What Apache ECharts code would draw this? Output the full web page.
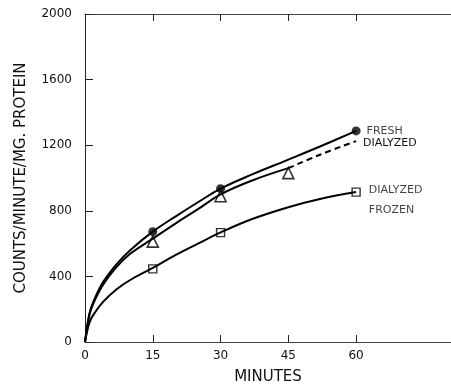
<!DOCTYPE html>
<html>
<head>
<meta charset="utf-8">
<script src="https://cdn.jsdelivr.net/npm/echarts@6/dist/echarts.min.js"></script>
<style>
html,body{margin:0;padding:0;background:#fff;}
#chart{width:451px;height:390px;}
</style>
</head>
<body>
<div id="chart"></div>
<script>
// measured points (minutes, counts/min/mg protein)
var freshPts = [[15, 673], [30, 935], [60, 1287]];
var dialyzedPts = [[15, 612], [30, 889], [45, 1030]];
var frozenPts = [[15, 446], [30, 667], [60, 914]];

// fitted curves as drawn in the figure
var freshCurve = [[0, 0], [1, 175], [2, 255], [4, 365], [7, 475], [10, 560], [15, 673], [20, 765], [25, 852], [30, 935], [37, 1022], [45, 1112], [52, 1192], [60, 1287]];
var dialyzedCurve = [[0, 0], [1, 168], [2, 245], [4, 350], [7, 458], [10, 538], [15, 630], [20, 722], [25, 810], [30, 900], [37, 985], [45, 1060]];
var dialyzedDash = [[45, 1060], [52, 1142], [60, 1225]];
var frozenCurve = [[0, 0], [1, 120], [2, 172], [4, 245], [7, 322], [10, 378], [15, 452], [20, 530], [25, 600], [30, 668], [37, 750], [45, 822], [52, 872], [60, 914]];

var xTicks = [0, 15, 30, 45, 60];

var chart = echarts.init(document.getElementById('chart'));
var font = 'DejaVu Sans';
var axLine = {lineStyle: {color: '#444', width: 1}};

option = {
	backgroundColor: '#fff',
	animation: false,
	grid: {left: 85, right: 0, top: 14, bottom: 43},
	xAxis: [{
		type: 'value',
		min: 0,
		max: 81,
		axisLine: axLine,
		axisTick: {inside: true, length: 7, customValues: xTicks, lineStyle: {color: '#222'}},
		axisLabel: {customValues: xTicks, margin: 8, color: '#111', fontFamily: font, fontSize: 12},
		splitLine: {show: false},
		name: 'MINUTES',
		nameLocation: 'middle',
		nameGap: 28,
		nameTextStyle: {color: '#111', fontFamily: font, fontSize: 15}
	}, {
		type: 'value',
		position: 'top',
		min: 0,
		max: 81,
		axisLine: axLine,
		axisTick: {inside: true, length: 7, customValues: xTicks, lineStyle: {color: '#222'}},
		axisLabel: {show: false},
		splitLine: {show: false}
	}],
	yAxis: {
		type: 'value',
		min: 0,
		max: 2000,
		interval: 400,
		axisLine: {show: true, lineStyle: {color: '#222', width: 1}},
		axisTick: {inside: true, length: 8, lineStyle: {color: '#222'}},
		axisLabel: {margin: 13, color: '#111', fontFamily: font, fontSize: 12,
			formatter: function (v) { return String(v); }},
		splitLine: {show: false},
		name: 'COUNTS/MINUTE/MG. PROTEIN',
		nameLocation: 'middle',
		nameRotate: 90,
		nameGap: 56,
		nameTextStyle: {color: '#111', fontFamily: font, fontSize: 15}
	},
	series: [
		{type: 'line', data: freshCurve, smooth: 0.4, symbol: 'none', lineStyle: {color: '#000', width: 2}},
		{type: 'line', data: dialyzedCurve, smooth: 0.4, symbol: 'none', lineStyle: {color: '#000', width: 2}},
		{type: 'line', data: dialyzedDash, smooth: 0.4, symbol: 'none', lineStyle: {color: '#000', width: 2, type: [6, 4]},
			endLabel: {show: true, formatter: 'DIALYZED', distance: 7, color: '#111', fontFamily: font, fontSize: 11, offset: [0, 2]}},
		{type: 'line', data: frozenCurve, smooth: 0.4, symbol: 'none', lineStyle: {color: '#000', width: 2}},
		{type: 'scatter', data: freshPts, symbol: 'circle', symbolSize: 9, itemStyle: {color: '#000'},
			label: {show: true, position: 'right', distance: 6, color: '#111', fontFamily: font, fontSize: 11,
				formatter: function (p) { return p.dataIndex === 2 ? 'FRESH' : ''; }}},
		{type: 'scatter', data: dialyzedPts, symbol: 'triangle', symbolSize: 11, itemStyle: {color: '#fff', borderColor: '#000', borderWidth: 1.6}},
		{type: 'scatter', data: frozenPts, symbol: 'rect', symbolSize: 8, itemStyle: {color: '#fff', borderColor: '#000', borderWidth: 1.4},
			label: {show: true, position: 'right', distance: 8, offset: [0, 8], lineHeight: 20, color: '#111', fontFamily: font, fontSize: 11,
				formatter: function (p) { return p.dataIndex === 2 ? 'DIALYZED\nFROZEN' : ''; }}}
	]
};
chart.setOption(option);
</script>
</body>
</html>
